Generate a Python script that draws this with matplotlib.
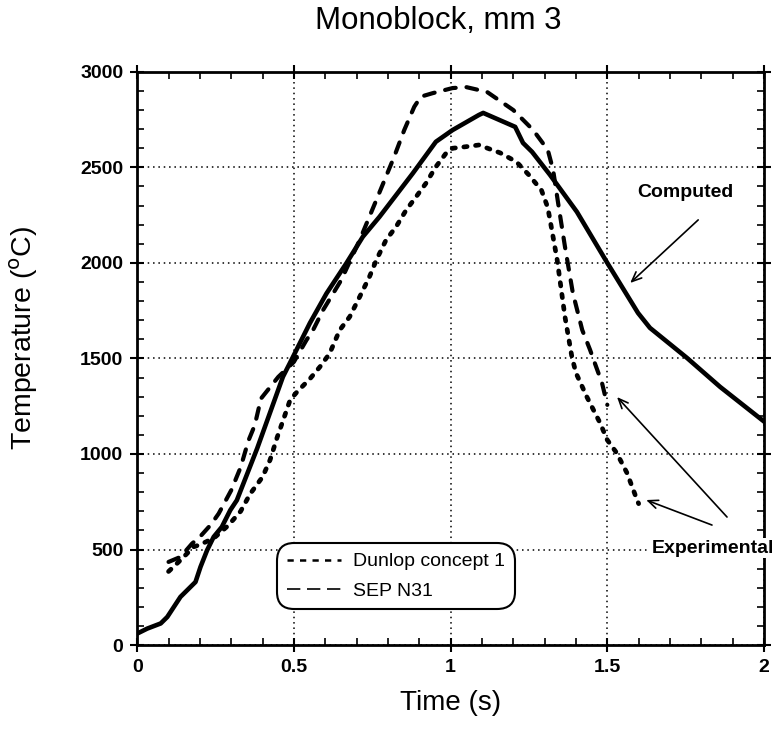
import matplotlib
matplotlib.use('Agg')
import matplotlib.pyplot as plt
from matplotlib.lines import Line2D
from matplotlib.ticker import MultipleLocator

plt.rcParams['font.family'] = ['Liberation Sans', 'DejaVu Sans']

# computed curve (solid)
t_comp = [0, 0.032, 0.075, 0.096, 0.138, 0.186, 0.202, 0.223, 0.244, 0.27, 0.297, 0.318,
          0.383, 0.465, 0.487, 0.551, 0.604, 0.667, 0.72, 0.773, 0.879, 0.953, 1.006,
          1.09, 1.104, 1.206, 1.231, 1.26, 1.317, 1.403, 1.5, 1.598, 1.636, 1.754, 1.86, 2.0]
T_comp = [60, 86, 113, 147, 252, 330, 409, 496, 566, 618, 706, 758,
          1030, 1404, 1475, 1685, 1840, 1997, 2137, 2241, 2468, 2634, 2695,
          2774, 2785, 2712, 2628, 2581, 2461, 2267, 2000, 1738, 1660, 1503, 1351, 1170]

# Dunlop concept 1 (dotted)
t_dunlop = [0.1, 0.138, 0.18, 0.2, 0.245, 0.29, 0.33, 0.36, 0.40, 0.424, 0.447, 0.466,
            0.488, 0.51, 0.552, 0.583, 0.614, 0.646, 0.678, 0.71, 0.741, 0.763, 0.794,
            0.826, 0.858, 0.89, 0.921, 0.953, 0.985, 1.006, 1.048, 1.09, 1.158, 1.21,
            1.25, 1.29, 1.31, 1.32, 1.34, 1.365, 1.387, 1.40, 1.435, 1.477, 1.50, 1.53,
            1.563, 1.595, 1.6]
T_dunlop = [385, 444, 514, 525, 560, 625, 700, 790, 880, 969, 1089, 1178,
            1283, 1325, 1395, 1456, 1526, 1648, 1718, 1823, 1927, 2015, 2120,
            2189, 2276, 2346, 2416, 2503, 2573, 2600, 2608, 2617, 2576, 2529,
            2460, 2380, 2290, 2200, 2016, 1717, 1508, 1424, 1298, 1162, 1073, 1005,
            900, 759, 740]

# SEP N31 (dashed)
t_sep = [0.1, 0.138, 0.175, 0.2, 0.235, 0.26, 0.3, 0.33, 0.355, 0.375, 0.395, 0.45,
         0.5, 0.54, 0.561, 0.593, 0.651, 0.71, 0.763, 0.82, 0.852, 0.884, 0.905, 0.942,
         1.006, 1.05, 1.116, 1.2, 1.263, 1.31, 1.327, 1.343, 1.365, 1.39, 1.42, 1.445,
         1.46, 1.483, 1.5]
T_sep = [435, 461, 531, 566, 630, 688, 810, 930, 1070, 1150, 1290, 1403,
         1482, 1596, 1648, 1753, 1910, 2120, 2329, 2556, 2695, 2817, 2870, 2888,
         2915, 2920, 2895, 2800, 2696, 2592, 2487, 2314, 2084, 1843, 1649, 1545,
         1476, 1372, 1257]

x_ticks = [0, 0.5, 1, 1.5, 2]
x_labels = ['0', '0.5', '1', '1.5', '2']
y_ticks = [0, 500, 1000, 1500, 2000, 2500, 3000]

fig = plt.figure(figsize=(7.84, 7.33), dpi=100)
ax = fig.add_axes([0.175, 0.12, 0.7995, 0.782])

ax.plot(t_comp, T_comp, color='black', lw=3.3, solid_joinstyle='round')
ax.plot(t_dunlop, T_dunlop, color='black', lw=3.4, dash_capstyle='round',
        dashes=(0.7, 1.8))
ax.plot(t_sep, T_sep, color='black', lw=3.0, dash_capstyle='round',
        dashes=(2.6, 2.6))

ax.set_xlim(0, 2)
ax.set_ylim(0, 3000)
ax.set_xticks(x_ticks)
ax.set_xticklabels(x_labels)
ax.set_yticks(y_ticks)
ax.xaxis.set_minor_locator(MultipleLocator(0.1))
ax.yaxis.set_minor_locator(MultipleLocator(100))
ax.tick_params(which='major', direction='inout', length=10, width=1.5,
               top=True, right=True, labelsize=14, pad=5)
ax.tick_params(which='minor', direction='in', length=5, width=1.2,
               top=True, right=True)
for lab in ax.get_xticklabels() + ax.get_yticklabels():
    lab.set_fontweight('bold')
for sp in ax.spines.values():
    sp.set_linewidth(2)

ax.grid(True, which='major', color='black', lw=1.1, linestyle=(0, (1, 2.5)))

ax.set_xlabel('Time (s)', fontsize=20, labelpad=10)
ax.set_ylabel('Temperature ($^{\\rm o}$C)', fontsize=20.5)
ax.yaxis.set_label_coords(-0.155, 0.535)
ax.set_title('Monoblock, mm 3', fontsize=22.5, pad=31, x=0.48)

handles = [Line2D([], [], color='black', lw=1.8, dashes=(2.5, 2.5)),
           Line2D([], [], color='black', lw=1.2, dashes=(8, 4))]
leg = ax.legend(handles, ['Dunlop concept 1', 'SEP N31'], loc='upper left',
                bbox_to_anchor=(0.223, 0.178), borderaxespad=0, fontsize=14,
                handlelength=2.8, handletextpad=0.6, labelspacing=0.6,
                borderpad=0.5, fancybox=True, framealpha=1, edgecolor='black')
leg.get_frame().set_linewidth(1.5)
leg.get_frame().set_boxstyle('round', pad=0.0, rounding_size=0.9)

arrow = dict(arrowstyle='->,head_length=0.7,head_width=0.3', color='black', lw=1.2,
             shrinkA=0, shrinkB=0)
ax.text(1.748, 2366, 'Computed', fontsize=14, fontweight='bold',
        ha='center', va='center')
ax.annotate('', xy=(1.573, 1895), xytext=(1.79, 2225), arrowprops=arrow)
ax.text(1.836, 507, 'Experimental', fontsize=14, fontweight='bold',
        ha='center', va='center', zorder=10,
        bbox=dict(facecolor='white', edgecolor='none', pad=1))
ax.annotate('', xy=(1.531, 1298), xytext=(1.882, 670), arrowprops=arrow)
ax.annotate('', xy=(1.624, 759), xytext=(1.834, 628), arrowprops=arrow)

fig.savefig('out.png', dpi=100)
